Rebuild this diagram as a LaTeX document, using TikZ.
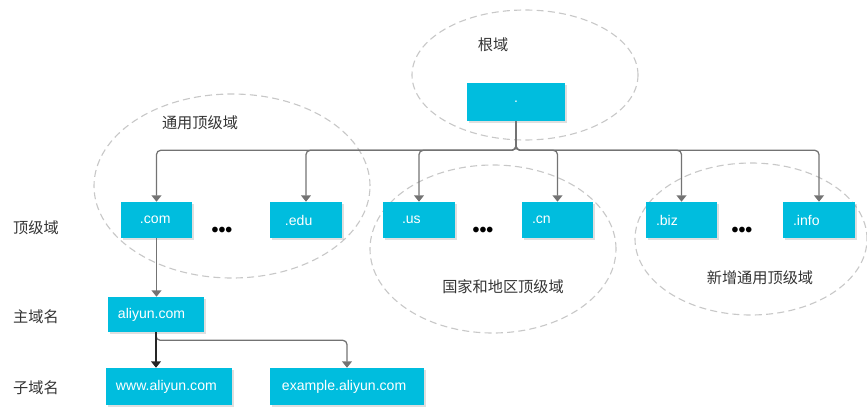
\documentclass[tikz,border=0pt]{standalone}
\usepackage{fontspec}
\setmainfont{Liberation Sans}
\newfontfamily\cjk{Noto Sans CJK SC}
\usepackage{tikz}
\usetikzlibrary{arrows.meta,shadows}
\definecolor{boxblue}{RGB}{0,189,222}
\definecolor{arrowgray}{RGB}{115,115,115}
\definecolor{ringgray}{RGB}{200,200,200}
\tikzstyle{dnsbox}=[fill=boxblue,text=white,inner xsep=0.25cm,inner ysep=0pt,align=left,minimum height=0.9cm,font=\fontsize{10}{12}\selectfont,drop shadow={shadow xshift=1.2pt,shadow yshift=-1.2pt,opacity=0.25}]
\tikzstyle{zone}=[ringgray,dashed,dash pattern=on 5pt off 3pt,thick]
\tikzstyle{link}=[arrowgray,line width=0.9pt,-{Triangle[width=7pt,length=4.5pt]},rounded corners=3pt]
\tikzstyle{etiqueta}=[inner sep=0pt,font=\cjk\fontsize{10.8}{13}\selectfont,text=black!80]
\tikzstyle{puntos}=[inner sep=0pt,font=\fontsize{14}{14}\selectfont\bfseries]

\begin{document}
\begin{tikzpicture}[x=0.025cm,y=0.025cm]
    \useasboundingbox (0,0) rectangle (867,409);
    \draw [zone] (525,334) ellipse [x radius = 113, y radius = 65];
    \draw [zone] (232,223) ellipse [x radius = 138, y radius = 92];
    \draw [zone] (493,160) ellipse [x radius = 123, y radius = 84];
    \draw [zone] (751,170) ellipse [x radius = 116, y radius = 76];
    \node [etiqueta] (rootlbl) at (493,364) {根域};
    \node [etiqueta] (gtldlbl) at (200,286) {通用顶级域};
    \node [etiqueta] (cctldlbl) at (503,122) {国家和地区顶级域};
    \node [etiqueta] (ngtldlbl) at (760,131) {新增通用顶级域};
    \node [etiqueta] (toplbl) at (36,181) {顶级域};
    \node [etiqueta] (mainlbl) at (36,92) {主域名};
    \node [etiqueta] (sublbl) at (36,21) {子域名};
    \node [dnsbox,align=center,text width=1.95cm,minimum height=0.95cm] (root) at (516,307) {.};
    \node [dnsbox,inner xsep=0.475cm,text width=0.825cm] (com) at (156.5,189) {.com};
    \node [dnsbox,inner xsep=0.375cm,text width=1.05cm] (edu) at (306,189) {.edu};
    \node [dnsbox,inner xsep=0.475cm,text width=0.85cm] (us) at (419,189) {.us};
    \node [dnsbox,text width=1.275cm] (cn) at (557.5,189) {.cn};
    \node [dnsbox,text width=1.275cm] (biz) at (681.5,189) {.biz};
    \node [dnsbox,text width=1.3cm] (info) at (819,189) {.info};
    \node [puntos] (dotsa) at (222,177) {•••};
    \node [puntos] (dotsb) at (483,177) {•••};
    \node [puntos] (dotsc) at (742,177) {•••};
    \node [dnsbox,text width=1.9cm,minimum height=0.875cm] (aliyun) at (156,94.5) {aliyun.com};
    \node [dnsbox,text width=2.65cm,minimum height=0.925cm] (www) at (169,22.5) {www.aliyun.com};
    \node [dnsbox,inner xsep=0.3cm,text width=3.25cm,minimum height=0.925cm] (example) at (347,22.5) {example.aliyun.com};
    \draw [link] (root.south) -- ++(0,-29) -| (com.north);
    \draw [link] (root.south) -- ++(0,-29) -| (edu.north);
    \draw [link] (root.south) -- ++(0,-29) -| (us.north);
    \draw [link] (root.south) -- ++(0,-29) -| (cn.north);
    \draw [link] (root.south) -- ++(0,-29) -| (biz.north);
    \draw [link] (root.south) -- ++(0,-29) -| (info.north);
    \draw [link] (com.south) -- (com.south |- aliyun.north);
    \draw [link] (aliyun.south) -- ++(0,-8) -| (example.north);
    \draw [link,black!85] (aliyun.south) -- (aliyun.south |- www.north);
\end{tikzpicture}
\end{document}
